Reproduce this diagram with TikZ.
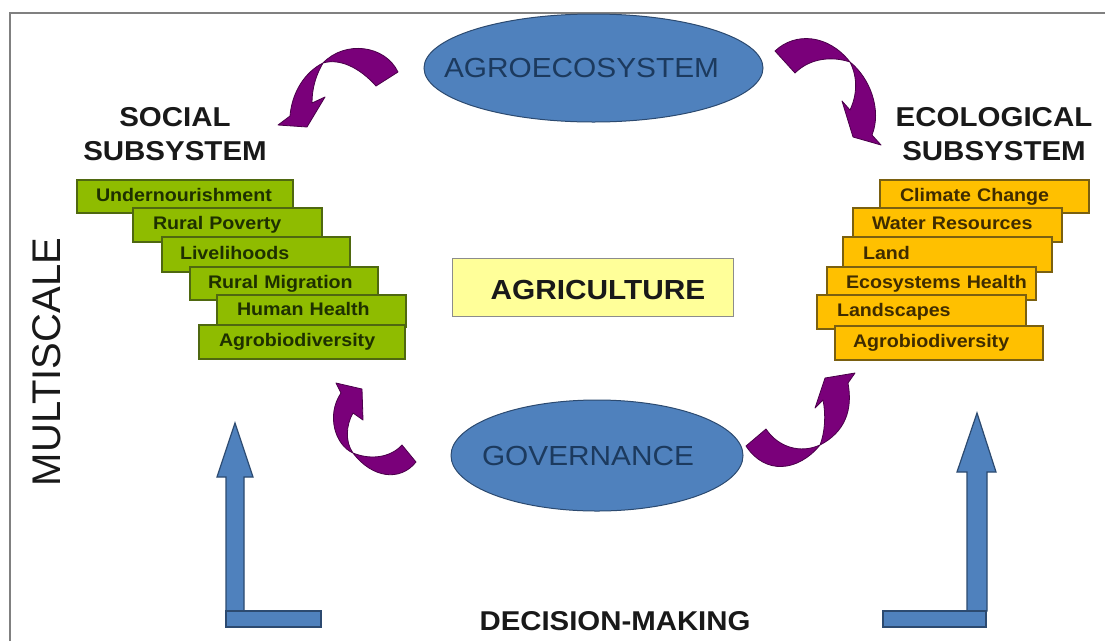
\documentclass[tikz,border=0pt]{standalone}
\usepackage{fontspec}
\setmainfont[FakeStretch=1.08]{Liberation Sans}
\newfontfamily\plainsans{Liberation Sans}
\definecolor{bluefill}{HTML}{4F81BD}
\definecolor{blueline}{HTML}{2C4A70}
\definecolor{navytext}{HTML}{1C3A5E}
\definecolor{greenfill}{HTML}{8FBC00}
\definecolor{greenline}{HTML}{4F6810}
\definecolor{greentext}{HTML}{1E3000}
\definecolor{amberfill}{HTML}{FFC000}
\definecolor{amberline}{HTML}{7A6010}
\definecolor{ambertext}{HTML}{3F2C00}
\definecolor{plumfill}{HTML}{7A007A}
\definecolor{plumline}{HTML}{4A004A}
\definecolor{paleyellow}{HTML}{FFFF99}
\usetikzlibrary{shapes.geometric}
\tikzset{
  x=1pt,y=-1pt,
  slabtext/.style={font=\fontsize{18.2}{20}\selectfont\bfseries,inner sep=0pt,outer sep=0pt,align=left,anchor=north west},
  greenslab/.style={slabtext,fill=greenfill,draw=greenline,line width=1.4pt,text=greentext},
  amberslab/.style={slabtext,fill=amberfill,draw=amberline,line width=1.4pt,text=ambertext},
  oval/.style={ellipse,fill=bluefill,draw=blueline,line width=1pt,inner sep=0pt},
  ovaltext/.style={inner sep=0pt,text=navytext,font=\fontsize{27.6}{30}\selectfont},
  heading/.style={font=\fontsize{27.3}{34}\selectfont\bfseries,align=center,inner sep=0pt,text=black!90},
  plum/.style={fill=plumfill,draw=plumline,line width=.8pt,line join=round},
  bluearrow/.style={fill=bluefill,draw=blueline,line width=1.2pt,line join=miter},
}
% #1 style, #2 name, #3 left, #4 top, #5 right, #6 bottom, #7 text left, #8 text
\newcommand{\slab}[8]{%
  \pgfmathsetmacro{\slabw}{#5-#3}%
  \pgfmathsetmacro{\slabh}{#6-#4}%
  \pgfmathsetmacro{\slabo}{#7-#3}%
  \node[#1,text width=\slabw pt,minimum height=\slabh pt] (#2) at (#3,#4) {\hspace*{\slabo pt}\vphantom{Ag}#8};}
\begin{document}
\begin{tikzpicture}
\useasboundingbox (0,0) rectangle (1105,641);
\fill[white] (0,0) rectangle (1105,641);
\draw[gray,line width=2.8pt] (10,641) -- (10,13) -- (1105,13);

\node[oval,minimum width=339pt,minimum height=108pt,
  label={[ovaltext,xshift=-12pt]center:AGROECOSYSTEM}] (agro) at (593.5,68) {};
\node[oval,minimum width=292pt,minimum height=111pt,
  label={[ovaltext,xshift=-9pt]center:GOVERNANCE}] (gov) at (597,455.5) {};
\node[fill=paleyellow,draw=black!45,line width=1pt,minimum width=281pt,minimum height=58pt,inner sep=0pt,
  label={[inner sep=0pt,xshift=5.5pt,yshift=-3pt,font=\fontsize{27.6}{30}\selectfont\bfseries,text=black!90]center:AGRICULTURE}] (agri) at (592.5,287) {};

\node[heading] (social) at (175,134) {SOCIAL\\SUBSYSTEM};
\node[heading] (eco) at (994,134) {ECOLOGICAL\\SUBSYSTEM};
\node[rotate=90,inner sep=0pt,font=\plainsans\fontsize{40}{44}\selectfont,text=black!90] (multi) at (47,362) {MULTISCALE};
\node[inner sep=0pt,font=\fontsize{27.2}{30}\selectfont\bfseries,text=black!90] (decision) at (615,621) {DECISION-MAKING};

\slab{greenslab}{g1}{77}{180}{293}{213}{96}{Undernourishment}
\slab{greenslab}{g2}{133}{208}{322}{242}{153}{Rural Poverty}
\slab{greenslab}{g3}{162}{237}{350}{272}{180}{Livelihoods}
\slab{greenslab}{g4}{190}{267}{378}{300}{208}{Rural Migration}
\slab{greenslab}{g5}{217}{295}{406}{327}{237}{Human Health}
\slab{greenslab}{g6}{199}{325}{405}{359}{219}{Agrobiodiversity}

\slab{amberslab}{a1}{880}{180}{1089}{213}{900}{Climate Change}
\slab{amberslab}{a2}{853}{208}{1062}{242}{872}{Water Resources}
\slab{amberslab}{a3}{843}{237}{1052}{272}{863}{Land}
\slab{amberslab}{a4}{827}{267}{1036}{300}{846}{Ecosystems Health}
\slab{amberslab}{a5}{817}{295}{1026}{329}{837}{Landscapes}
\slab{amberslab}{a6}{835}{326}{1043}{360}{853}{Agrobiodiversity}

% curved purple arrows
\draw[plum] (398,72) .. controls (385,45) and (345,40) .. (323,63)
  .. controls (305,72) and (292,92) .. (290,116) -- (278,125) -- (307,127) -- (325,97) -- (312,103)
  .. controls (312,88) and (316,75) .. (323,63)
  .. controls (340,58) and (360,68) .. (376,86) -- cycle;
\draw[plum] (775,51) .. controls (795,32) and (828,34) .. (850,62)
  .. controls (870,78) and (882,110) .. (872,135) -- (881,145) -- (853,137) -- (842,101) -- (850,110)
  .. controls (857,95) and (858,78) .. (850,62)
  .. controls (832,56) and (810,58) .. (795,73) -- cycle;
\draw[plum] (746,446) .. controls (765,475) and (798,472) .. (820,445)
  .. controls (845,432) and (853,410) .. (848,383) -- (855,373) -- (825,378) -- (815,408) -- (823,400)
  .. controls (826,415) and (825,432) .. (820,445)
  .. controls (800,454) and (778,447) .. (766,429) -- cycle;
\draw[plum] (416,462) .. controls (400,482) and (372,478) .. (353,453)
  .. controls (335,445) and (326,415) .. (341,393) -- (336,383) -- (362,389) -- (363,420) -- (353,413)
  .. controls (346,425) and (345,442) .. (353,453)
  .. controls (370,460) and (390,458) .. (402,445) -- cycle;

% L-shaped blue arrows
\draw[bluearrow] (235,423) -- (253,477) -- (244,477) -- (244,611) -- (226,611) -- (226,477) -- (217,477) -- cycle;
\draw[bluearrow] (226,611) rectangle (321,627);
\draw[bluearrow] (977,413) -- (996,472) -- (987,472) -- (987,611) -- (967,611) -- (967,472) -- (957,472) -- cycle;
\draw[bluearrow] (883,611) rectangle (986,627);
\end{tikzpicture}
\end{document}
